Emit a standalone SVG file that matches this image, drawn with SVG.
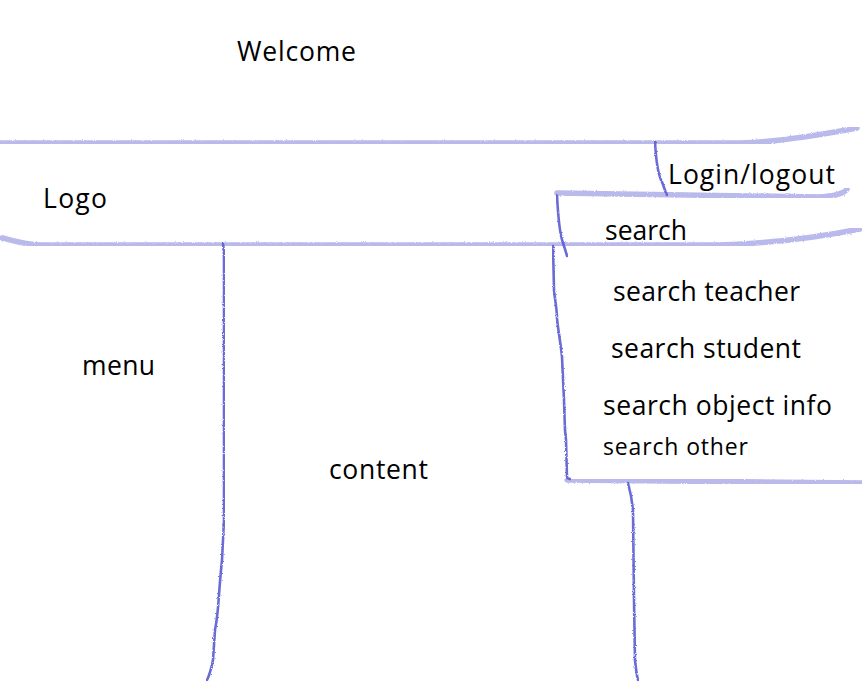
<svg xmlns="http://www.w3.org/2000/svg" width="862" height="681" viewBox="0 0 862 681">
<defs>
<filter id="rough" x="-5%" y="-5%" width="110%" height="110%">
<feTurbulence type="fractalNoise" baseFrequency="0.9" numOctaves="2" seed="3" result="n"/>
<feDisplacementMap in="SourceGraphic" in2="n" scale="2.5"/>
</filter>
</defs>
<style>
.hl{fill:none;stroke:#a6a6e6;stroke-width:5.5;stroke-linecap:round;stroke-linejoin:round;opacity:0.78;filter:url(#rough)}
.pen{fill:none;stroke:#5c5cd2;stroke-width:2.6;stroke-linecap:round;stroke-linejoin:round;opacity:0.9;filter:url(#rough)}
.t{font-family:"Open Sans","Noto Sans","Liberation Sans",sans-serif;font-size:26.5px;fill:#000}
.s{font-size:23px}
</style>
<rect width="862" height="681" fill="#fff"/>
<g id="connectors">
<path class="hl" d="M0,143 L740,143 C780,142 820,135 857,128"/>
<path class="hl" d="M2,238 C12,240 22,244 40,245 L720,245 C780,243 830,235 860,229"/>
<path class="hl" d="M557,193 L820,197 C835,196 845,193 847,189"/>
<path class="hl" d="M567,480 L862,483"/>
<path class="pen" d="M655,142 C656,160 658,175 662,182 C664,187 665,191 667,195"/>
<path class="pen" d="M557,195 C558,215 560,235 563,243 C565,249 566,252 567,256"/>
<path class="pen" d="M553,246 L554,290 C555,300 557,310 557,318 C558,330 561,345 562,357 L564,400 L565,430 L566,440 L567,478 L570,479"/>
<path class="pen" d="M223,244 C224,250 224,258 224,262 L224,520 L222,560 C221,570 220,580 219,595 C218,610 217,620 215,630 L213,660 C211,670 209,676 207,680"/>
<path class="pen" d="M628,483 C630,490 632,500 633,510 L634,600 L635,660 C636,670 637,676 638,680"/>
</g>
<g id="welcome"><text class="t" x="237" y="61" textLength="119">Welcome</text></g>
<g id="logo"><text class="t" x="43" y="208" textLength="64">Logo</text></g>
<g id="login"><text class="t" x="668" y="184" textLength="167">Login/logout</text></g>
<g id="search">
<text class="t" x="605" y="240" textLength="82">search</text>
<text class="t" x="613" y="301" textLength="187">search teacher</text>
<text class="t" x="611" y="358" textLength="190">search student</text>
<text class="t" x="603" y="415" textLength="229">search object info</text>
<text class="t s" x="603" y="455" textLength="145">search other</text>
</g>
<g id="menu"><text class="t" x="82" y="375" textLength="73">menu</text></g>
<g id="content"><text class="t" x="329" y="479" textLength="99">content</text></g>
</svg>
